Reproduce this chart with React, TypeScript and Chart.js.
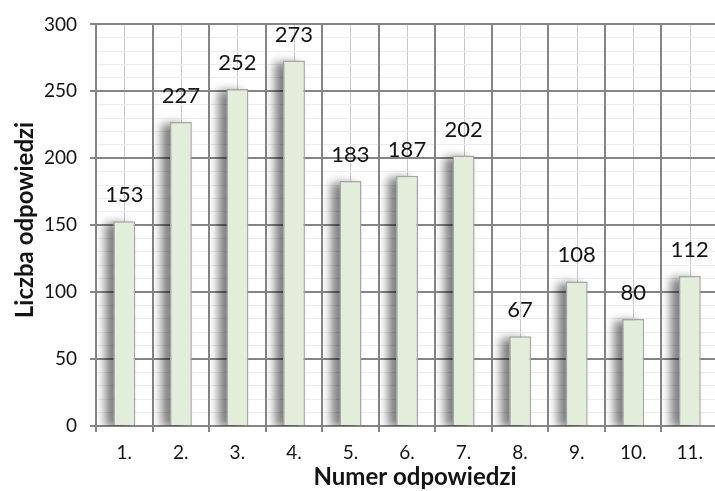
import React, { useEffect, useRef } from "react";
import { Chart, registerables } from "chart.js";

Chart.register(...registerables);

const categories = ["1.", "2.", "3.", "4.", "5.", "6.", "7.", "8.", "9.", "10.", "11."];
const values = [153, 227, 252, 273, 183, 187, 202, 67, 108, 80, 112];
const yMin = 0;
const yMax = 300;
const yMinorStep = 10;
const yMajorStep = 50;
const xTitle = "Numer odpowiedzi";
const yTitle = "Liczba odpowiedzi";

const MAJOR = "#858585";
const MINOR = "#ececec";
const CENTER = "#c8c8c8";
const TEXT = "#141414";
const FONT = "Lato";

const decor = {
  id: "decor",
  beforeDraw(chart: any) {
    const { ctx, chartArea, scales } = chart;
    const x = scales.x;
    ctx.save();
    ctx.strokeStyle = CENTER;
    ctx.lineWidth = 1;
    for (let i = 0; i < categories.length; i++) {
      const px = Math.round(x.getPixelForValue(i)) + 0.5;
      ctx.beginPath();
      ctx.moveTo(px, chartArea.top);
      ctx.lineTo(px, chartArea.bottom);
      ctx.stroke();
    }
    ctx.restore();
  },
  beforeDatasetsDraw(chart: any) {
    const { ctx, chartArea } = chart;
    const meta = chart.getDatasetMeta(0);
    const OFF = 5000;
    ctx.save();
    ctx.beginPath();
    ctx.rect(chartArea.left, chartArea.top, chartArea.right - chartArea.left, chartArea.bottom - chartArea.top);
    ctx.clip();
    ctx.shadowColor = "rgba(0,0,0,0.5)";
    ctx.shadowBlur = 10;
    ctx.shadowOffsetX = OFF - 8;
    ctx.shadowOffsetY = 2;
    ctx.fillStyle = "#000";
    meta.data.forEach((el: any) => {
      const { x, y, base, width } = el.getProps(["x", "y", "base", "width"], true);
      ctx.fillRect(x - width / 2 - OFF, y, width, base - y);
    });
    ctx.restore();
  },
  afterDatasetsDraw(chart: any) {
    const ctx = chart.ctx;
    const meta = chart.getDatasetMeta(0);
    ctx.save();
    ctx.font = `22px ${FONT}`;
    ctx.fillStyle = TEXT;
    ctx.textAlign = "center";
    ctx.textBaseline = "alphabetic";
    meta.data.forEach((el: any, i: number) => {
      ctx.fillText(String(values[i]), el.x, el.y - 19);
    });
    ctx.restore();
  },
  afterDraw(chart: any) {
    const ctx = chart.ctx;
    ctx.save();
    ctx.font = `bold 24px ${FONT}`;
    ctx.fillStyle = TEXT;
    ctx.textAlign = "center";
    ctx.textBaseline = "alphabetic";
    ctx.fillText(xTitle, 415, 485);
    ctx.translate(33, 220);
    ctx.rotate(-Math.PI / 2);
    ctx.fillText(yTitle, 0, 0);
    ctx.restore();
  },
};

export default function App() {
  const ref = useRef<HTMLCanvasElement | null>(null);

  useEffect(() => {
    if (!ref.current) return;
    const chart = new Chart(ref.current, {
      type: "bar",
      data: {
        labels: categories,
        datasets: [
          {
            data: values,
            backgroundColor: "#e2eed9",
            borderColor: "#a6a6a6",
            borderWidth: 1.5,
            barPercentage: 0.39,
            categoryPercentage: 1,
          },
        ],
      },
      options: {
        animation: false,
        responsive: false,
        maintainAspectRatio: false,
        devicePixelRatio: 1,
        layout: { padding: { top: 22, right: 0, bottom: 0, left: 0 } },
        plugins: { legend: { display: false }, tooltip: { enabled: false } },
        scales: {
          x: {
            offset: true,
            ticks: { padding: 9, color: TEXT, font: { family: FONT, size: 19 } },
            grid: { offset: true, color: MAJOR, lineWidth: 2, tickLength: 6, z: 0 },
            border: { color: MAJOR, width: 2 },
            afterFit: (s: any) => {
              s.height = 65;
            },
          },
          y: {
            min: yMin,
            max: yMax,
            ticks: {
              stepSize: yMinorStep,
              autoSkip: false,
              padding: 13,
              color: TEXT,
              font: { family: FONT, size: 19 },
              callback: (v: any) => (Number(v) % yMajorStep === 0 ? String(v) : ""),
            },
            grid: {
              z: -1,
              color: (c: any) => (c.tick && c.tick.value % yMajorStep === 0 ? MAJOR : MINOR),
              lineWidth: (c: any) => (c.tick && c.tick.value % yMajorStep === 0 ? 2 : 1),
              tickColor: (c: any) =>
                c.tick && c.tick.value % yMajorStep === 0 ? MAJOR : "rgba(0,0,0,0)",
              tickLength: 6,
            },
            border: { color: MAJOR, width: 2 },
            afterFit: (s: any) => {
              s.width = 96;
            },
          },
        },
      },
      plugins: [decor],
    });
    return () => chart.destroy();
  }, []);

  return (
    <div
      style={{
        position: "fixed",
        left: 0,
        top: 0,
        width: 715,
        height: 491,
        overflow: "hidden",
        background: "#fff",
      }}
    >
      <canvas ref={ref} width={718} height={491} style={{ display: "block", width: 718, height: 491 }} />
    </div>
  );
}
